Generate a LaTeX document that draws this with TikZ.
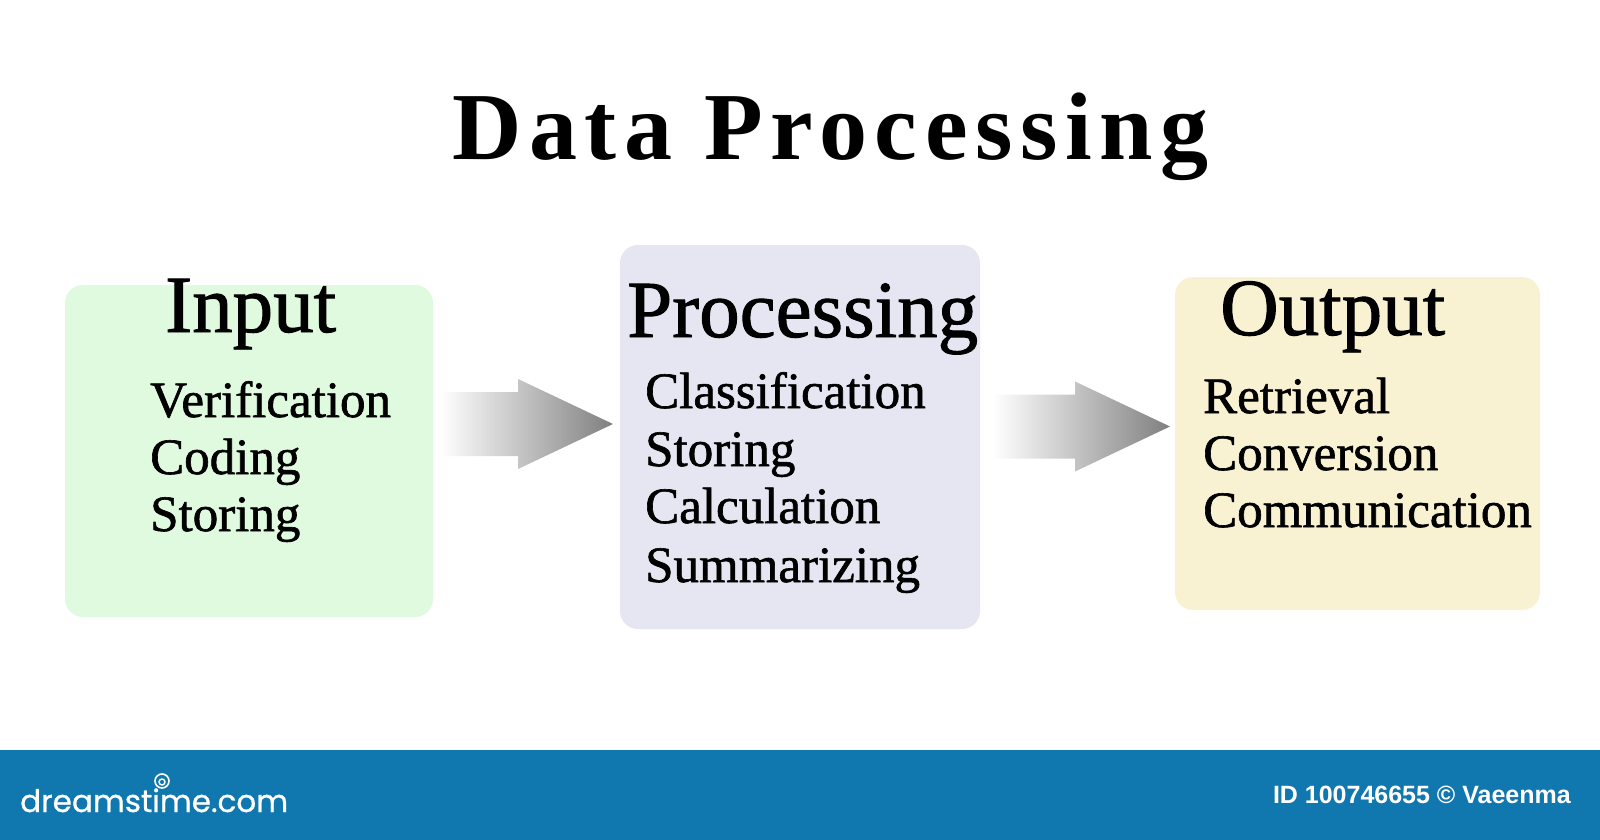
\documentclass[tikz,border=0pt]{standalone}
\usepackage{fontspec}
\usetikzlibrary{calc}
\setmainfont[FakeBold=1.2]{Liberation Serif}
\newfontfamily\titlefont[LetterSpace=8]{Liberation Serif}
\newfontfamily\logofont[FakeBold=0.8]{Poppins}
\newfontfamily\idfont{Liberation Sans}
\definecolor{inbg}{RGB}{224,250,224}
\definecolor{procbg}{RGB}{229,230,241}
\definecolor{outbg}{RGB}{248,242,210}
\definecolor{bannerblue}{RGB}{17,119,175}
\tikzset{
  box/.style={draw=none, rounded corners=18pt, inner sep=0pt},
  head/.style={anchor=base west, inner sep=0pt, font=\fontsize{81}{81}\selectfont},
  item/.style={anchor=base west, inner sep=0pt, font=\fontsize{51}{51}\selectfont},
  arrowfill/.style={left color=white, right color=black!50, draw=none},
}
\newcommand\blockarrow[2]{%
  \path[arrowfill] let \p1=(#1), \p2=(#2) in
    (\x1,\y1+32pt) -- (\x2-95pt,\y1+32pt) -- (\x2-95pt,\y1+45pt) -- (\x2,\y2)
    -- (\x2-95pt,\y1-45pt) -- (\x2-95pt,\y1-32pt) -- (\x1,\y1-32pt) -- cycle;}
\begin{document}
\begin{tikzpicture}[x=1pt,y=-1pt]
\useasboundingbox (0,0) rectangle (1600,840);
\fill[white] (0,0) rectangle (1600,840);
\fill[bannerblue] (0,750) rectangle (1600,840);

% title
\node[anchor=base west, inner sep=0pt, font=\titlefont\bfseries\fontsize{96}{96}\selectfont] (title) at (452,159) {Data Processing};

% boxes
\node[box, fill=inbg, minimum width=368pt, minimum height=332pt] (inbox) at (249,451) {};
\node[box, fill=procbg, minimum width=360pt, minimum height=384pt] (procbox) at (800,437) {};
\node[box, fill=outbg, minimum width=365pt, minimum height=333pt] (outbox) at (1357.5,443.5) {};

% input
\node[head] (inhead) at (165,332) {Input};
\node[item] (in1) at (150,417) {Verification};
\node[item] (in2) at (150,474) {Coding};
\node[item] (in3) at (150,531) {Storing};

% processing
\node[head] (prochead) at (627,337) {Processing};
\node[item] (p1) at (645,408) {Classification};
\node[item] (p2) at (645,466) {Storing};
\node[item] (p3) at (645,523) {Calculation};
\node[item] (p4) at (645,582) {Summarizing};

% output
\node[head] (outhead) at (1220,335) {Output};
\node[item] (o1) at (1203,413) {Retrieval};
\node[item] (o2) at (1203,470) {Conversion};
\node[item] (o3) at (1203,527) {Communication};

% arrows
\coordinate (a1s) at (440,424);
\coordinate (a1t) at (613,424);
\coordinate (a2s) at (993,426.5);
\coordinate (a2t) at (1170,426.5);
\blockarrow{a1s}{a1t}
\blockarrow{a2s}{a2t}

% banner
\node[anchor=base west, inner sep=0pt, text=white, font=\logofont\fontsize{31}{31}\selectfont] (logo) at (20,812) {dreamstime.com};
\draw[white, line width=1.6pt] (162,781) circle (7);
\draw[white, line width=1.4pt] (162,782) circle (3);
\node[anchor=base east, inner sep=0pt, text=white, font=\idfont\bfseries\fontsize{25}{25}\selectfont] (credit) at (1571,803) {ID 100746655 © Vaeenma};
\end{tikzpicture}
\end{document}
